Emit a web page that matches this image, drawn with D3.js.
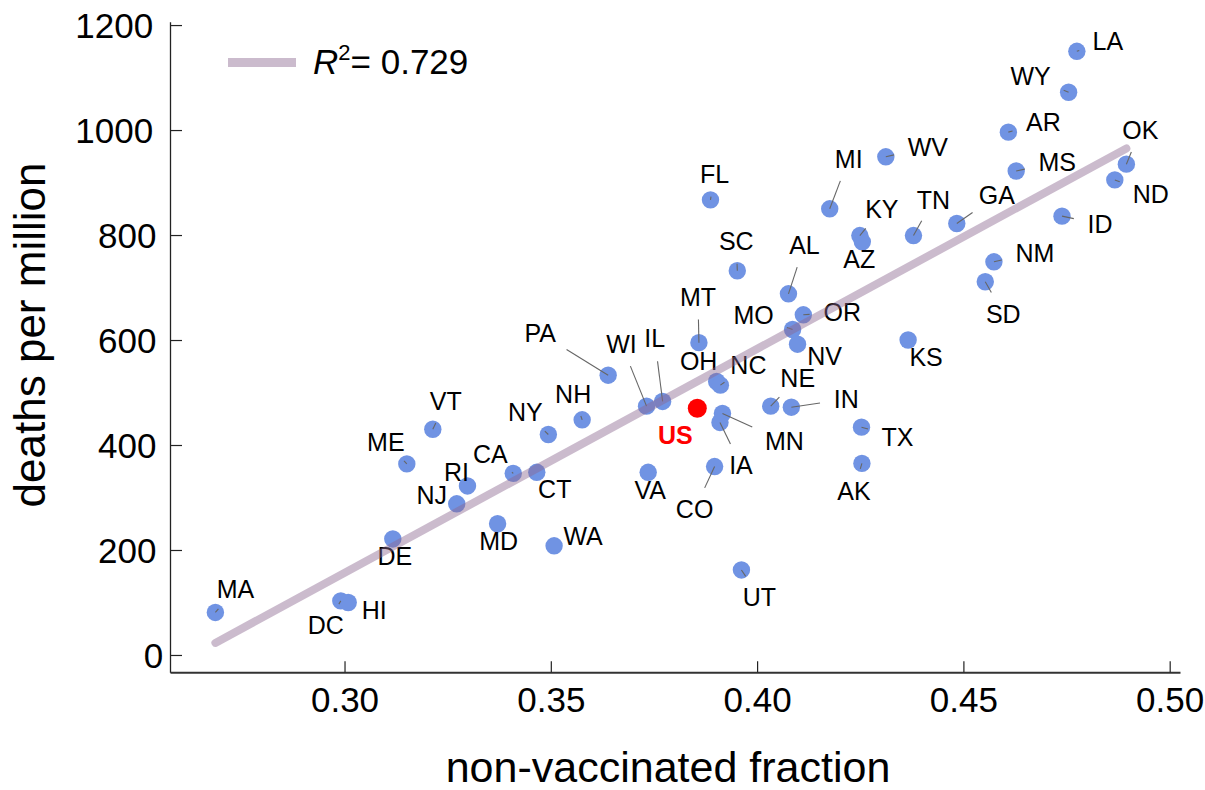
<!DOCTYPE html>
<html>
<head>
<meta charset="utf-8">
<script src="https://cdn.jsdelivr.net/npm/d3@7/dist/d3.min.js"></script>
<style>
  html, body { margin: 0; padding: 0; background: #fff; }
  svg { display: block; }
  text { font-family: "Liberation Sans", Arial, Helvetica, sans-serif; }
</style>
</head>
<body>
<svg id="chart" width="1205" height="790"></svg>
<script>
// ---------------- data ----------------
const states = ["LA","WY","AR","MS","OK","ND","WV","MI","ID","GA","TN","KY","AZ","NM","SD","OR","KS","TX","AK",
  "SC","AL","MO","NV","MT","PA","WI","IL","OH","NC","MN","IA","NE","IN","NH","CO","VA","FL","UT",
  "VT","ME","NY","CA","CT","RI","NJ","DE","MD","WA","MA","DC","HI"];
const nonVaccinated = [0.4775,0.4755,0.4609,0.4628,0.4895,0.4867,0.4312,0.4176,0.4739,0.4484,0.4379,0.4249,0.4255,0.4574,0.4553,0.4112,0.4366,0.4253,0.4254,
  0.3952,0.4076,0.4086,0.4098,0.3859,0.3639,0.3732,0.3771,0.3902,0.3911,0.3916,0.3910,0.4033,0.4083,0.3576,0.3897,0.3736,0.3887,0.3962,
  0.3214,0.3151,0.3494,0.3409,0.3466,0.3298,0.3272,0.3117,0.3371,0.3508,0.2687,0.2991,0.3009];
const deathsPerMillion = [1150,1072,996,922,935,905,949,850,836,822,799,799,787,749,711,648,600,434,365,
  732,688,620,592,595,533,474,483,521,514,460,443,474,472,448,359,348,867,162,
  430,364,420,346,348,322,288,221,250,208,81,103,100];
const usLabel = "US";
const usNonVaccinated = 0.3855;
const usDeaths = 470;
// regression line (y = intercept + slope * x), drawn over the data x-range
const fitIntercept = -1123.3;
const fitSlope = 4266;
const rSquaredText = "0.729";
const xTicks = [0.30, 0.35, 0.40, 0.45, 0.50];
const yTicks = [0, 200, 400, 600, 800, 1000, 1200];
const xTitle = "non-vaccinated fraction";
const yTitle = "deaths per million";

// ---------------- layout (label offsets in pixels, not data) ----------------
const labelOffsets = {
  LA:[31,-10], WY:[-38,-16], AR:[35,-10], MS:[41,-9], OK:[14,-34], ND:[36,14], WV:[42,-10], MI:[19,-50],
  ID:[38,8], GA:[40,-28], TN:[20,-36], KY:[22,-27], AZ:[-3,17], NM:[41,-9], SD:[18,32], OR:[39,-3],
  KS:[18,17], TX:[36,10], AK:[-8,28], SC:[-1,-30], AL:[16,-49], MO:[-39,-14], NV:[27,12], MT:[-1,-46],
  PA:[-68,-42], WI:[-25,-62], IL:[-8,-63], OH:[-18,-20], NC:[28,-20], MN:[62,28], IA:[21,43], NE:[27,-28],
  IN:[55,-8], NH:[-9,-26], CO:[-20,43], VA:[2,18], FL:[4,-26], UT:[18,27], VT:[13,-28], ME:[-21,-22],
  NY:[-23,-22], CA:[-23,-19], CT:[18,17], RI:[-11,-14], NJ:[-25,-9], DE:[2,17], MD:[1,17], WA:[29,-10],
  MA:[20,-23], DC:[-15,24], HI:[26,8], US:[-22,27]
};

const svg = d3.select("#chart");
const x = d3.scaleLinear().domain([0.2577, 0.5025]).range([170, 1180]);
const y = d3.scaleLinear().domain([-33, 1206.4]).range([672.3, 21.7]);

const FONT = '"Liberation Sans", Arial, Helvetica, sans-serif';

// axes
const xAxis = svg.append("g").attr("transform", `translate(0,${y.range()[0]})`)
  .call(d3.axisBottom(x).tickValues(xTicks).tickFormat(d3.format(".2f")).tickSizeInner(-11).tickSizeOuter(0).tickPadding(0));
xAxis.select(".domain").attr("stroke", "#333").attr("stroke-width", 2);
xAxis.selectAll(".tick line").attr("stroke", "#222").attr("stroke-width", 1.2);
xAxis.selectAll(".tick text").attr("font-family", FONT).attr("font-size", 35).attr("fill", "#000")
  .attr("y", 40).attr("dy", 0);

const yAxis = svg.append("g").attr("transform", `translate(${x.range()[0]},0)`)
  .call(d3.axisLeft(y).tickValues(yTicks).tickFormat(d3.format("d")).tickSizeInner(-12).tickSizeOuter(0).tickPadding(0));
yAxis.select(".domain").attr("stroke", "#222").attr("stroke-width", 1.3);
yAxis.selectAll(".tick line").attr("stroke", "#222").attr("stroke-width", 1.2);
yAxis.selectAll(".tick text").attr("font-family", FONT).attr("font-size", 35).attr("fill", "#000")
  .attr("text-anchor", "end").attr("dy", "0.35em")
  .each(function() {
    const w = this.getComputedTextLength();
    d3.select(this).attr("x", (166.4 - 0.17 * w) - 170);
  });

// axis titles
svg.append("text").attr("x", 668).attr("y", 782).attr("text-anchor", "middle")
  .attr("font-size", 43).attr("fill", "#000").text(xTitle);
svg.append("text").attr("transform", "translate(45,335) rotate(-90)").attr("text-anchor", "middle")
  .attr("font-size", 44).attr("fill", "#000").text(yTitle);

// points data
const pts = states.map((s, i) => ({ name: s, vx: nonVaccinated[i], vy: deathsPerMillion[i], us: false }));
pts.push({ name: usLabel, vx: usNonVaccinated, vy: usDeaths, us: true });

const gDots = svg.append("g");
gDots.selectAll("circle").data(pts).join("circle")
  .attr("cx", d => x(d.vx)).attr("cy", d => y(d.vy))
  .attr("r", d => d.us ? 9.5 : 8.7)
  .attr("fill", d => d.us ? "#ff0000" : "#7093e3");

// labels and leaders
const gLead = svg.append("g");
const gLab = svg.append("g");
const CAP = 0.716 * 25;
pts.forEach(d => {
  const off = labelOffsets[d.name] || [0, -25];
  const px = x(d.vx), py = y(d.vy);
  const cx = px + off[0], cy = py + off[1];
  const t = gLab.append("text").attr("x", cx).attr("y", cy + CAP / 2).attr("text-anchor", "middle")
    .attr("font-size", 25).attr("font-weight", d.us ? "bold" : "normal")
    .attr("fill", d.us ? "#ff0000" : "#000").text(d.name);
  const w = t.node().getComputedTextLength();
  // leader: from point toward label, stopping before label box
  const dx = cx - px, dy = cy - py;
  const len = Math.hypot(dx, dy);
  if (len < 1) return;
  const ux = dx / len, uy = dy / len;
  const hx = w / 2, hy = CAP / 2;
  const tx = Math.abs(ux) > 1e-6 ? (Math.abs(dx) - hx) / Math.abs(ux) : -Infinity;
  const ty = Math.abs(uy) > 1e-6 ? (Math.abs(dy) - hy) / Math.abs(uy) : -Infinity;
  const tEnter = Math.max(tx, ty);
  const tEnd = tEnter - 14;
  if (tEnd > 1.5 && !d.us) {
    gLead.append("line").attr("x1", px).attr("y1", py)
      .attr("x2", px + ux * tEnd).attr("y2", py + uy * tEnd)
      .attr("stroke", "#666").attr("stroke-width", 1.1);
  }
});

// regression line over data range
const xMin = d3.min(pts, d => d.vx), xMax = d3.max(pts, d => d.vx);
svg.append("line")
  .attr("x1", x(xMin)).attr("y1", y(fitIntercept + fitSlope * xMin))
  .attr("x2", x(xMax)).attr("y2", y(fitIntercept + fitSlope * xMax))
  .attr("stroke", "rgb(140,105,145)").attr("stroke-opacity", 0.45)
  .attr("stroke-width", 8).attr("stroke-linecap", "round");

// legend
svg.append("line").attr("x1", 228).attr("x2", 296).attr("y1", 62.5).attr("y2", 62.5)
  .attr("stroke", "rgb(140,105,145)").attr("stroke-opacity", 0.45).attr("stroke-width", 9);
const lt = svg.append("text").attr("x", 313).attr("y", 74).attr("font-size", 35).attr("fill", "#000");
lt.append("tspan").attr("font-style", "italic").text("R");
lt.append("tspan").attr("font-size", 22).attr("dy", -14).text("2");
lt.append("tspan").attr("dy", 14).text("= " + rSquaredText);
</script>
</body>
</html>
